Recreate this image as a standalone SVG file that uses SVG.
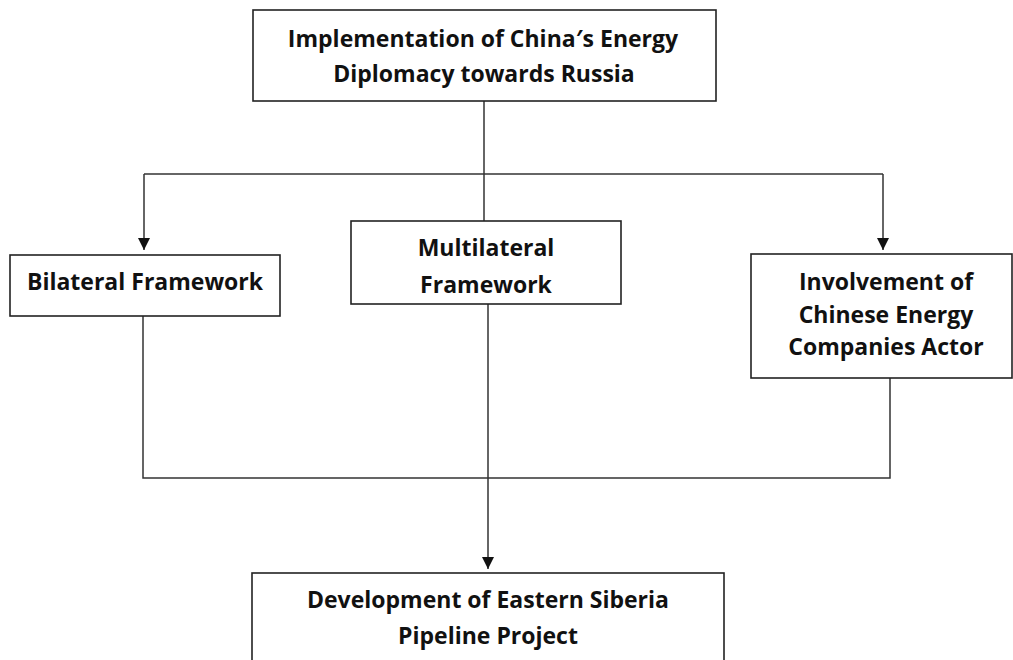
<svg xmlns="http://www.w3.org/2000/svg" width="1013" height="660" viewBox="0 0 1013 660">
<style>
.box{fill:#fff;stroke:#222;stroke-width:1.6}
.t{font-family:"Open Sans","Noto Sans","Liberation Sans",sans-serif;font-weight:bold;font-size:23px;fill:#111;text-anchor:middle}
.c{fill:none;stroke:#333;stroke-width:1.5}
</style>
<defs>
<marker id="ah" viewBox="0 0 12 12" refX="12" refY="6" markerWidth="12" markerHeight="12" markerUnits="userSpaceOnUse" orient="auto">
<path d="M0,0 L12,6 L0,12 Z" fill="#111"/>
</marker>
</defs>
<rect width="1013" height="660" fill="#fff"/>
<g id="connectors">
<path class="c" d="M484,101 V221"/>
<path class="c" d="M144,174 H883"/>
<path class="c" d="M144,174 V250" marker-end="url(#ah)"/>
<path class="c" d="M883,174 V250" marker-end="url(#ah)"/>
<path class="c" d="M143,316 V478 H890 V378"/>
<path class="c" d="M488,304 V569" marker-end="url(#ah)"/>
</g>
<g id="top">
<rect class="box" x="253" y="10" width="463" height="91"/>
<text class="t" x="483" y="47">Implementation of China′s Energy</text>
<text class="t" x="484" y="82">Diplomacy towards Russia</text>
</g>
<g id="bilateral">
<rect class="box" x="10" y="255" width="270" height="61"/>
<text class="t" x="145" y="290">Bilateral Framework</text>
</g>
<g id="multilateral">
<rect class="box" x="351" y="221" width="270" height="83"/>
<text class="t" x="486" y="256">Multilateral</text>
<text class="t" x="486" y="293">Framework</text>
</g>
<g id="involvement">
<rect class="box" x="751" y="254" width="261" height="124"/>
<text class="t" x="886" y="290">Involvement of</text>
<text class="t" x="886" y="323">Chinese Energy</text>
<text class="t" x="886" y="355">Companies Actor</text>
</g>
<g id="development">
<rect class="box" x="252" y="573" width="472" height="100"/>
<text class="t" x="488" y="608">Development of Eastern Siberia</text>
<text class="t" x="488" y="644">Pipeline Project</text>
</g>
</svg>
